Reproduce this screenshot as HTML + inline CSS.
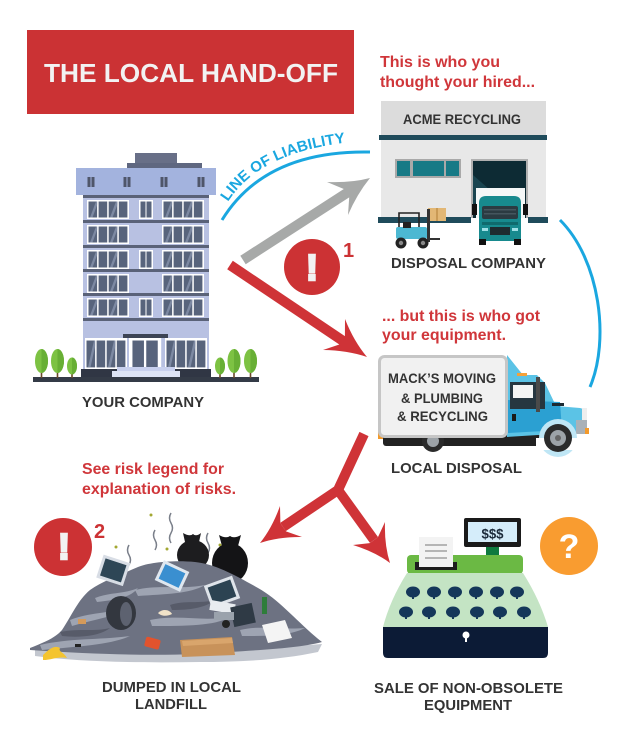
<!DOCTYPE html>
<html><head><meta charset="utf-8">
<style>html,body{margin:0;padding:0;background:#fff;}svg{display:block}</style>
</head>
<body>
<svg width="635" height="739" viewBox="0 0 635 739" xmlns="http://www.w3.org/2000/svg" xmlns:xlink="http://www.w3.org/1999/xlink" font-family="Liberation Sans, Arial, sans-serif" font-weight="bold">
<defs>
  <g id="w4">
    <rect width="42" height="19" fill="#ffffff"/>
    <rect x="1.5" y="1.5" width="8.6" height="16" fill="#58647c"/>
    <rect x="11.6" y="1.5" width="8.6" height="16" fill="#58647c"/>
    <rect x="21.7" y="1.5" width="8.6" height="16" fill="#58647c"/>
    <rect x="31.8" y="1.5" width="8.6" height="16" fill="#58647c"/>
    <path d="M3,17.5 L9,1.5 L10.1,1.5 L10.1,5 L5.5,17.5Z M23,17.5 L29,1.5 L30.3,1.5 L30.3,5 L25.5,17.5Z" fill="#7d89a2"/>
  </g>
  <g id="w2">
    <rect width="14" height="19" fill="#ffffff"/>
    <rect x="1.5" y="1.5" width="5" height="16" fill="#58647c"/>
    <rect x="7.5" y="1.5" width="5" height="16" fill="#58647c"/>
  </g>
  <g id="btn">
    <rect x="-1" y="2" width="2" height="5" fill="#15375a"/>
    <ellipse cx="0" cy="0" rx="7" ry="5.5" fill="#15375a"/>
  </g>
</defs>

<rect width="635" height="739" fill="#ffffff"/>

<!-- Title -->
<rect x="27" y="30" width="327" height="84" fill="#cb3234"/>
<text x="44" y="82" font-size="26" fill="#f2f2f2" textLength="294" lengthAdjust="spacingAndGlyphs">THE LOCAL HAND-OFF</text>

<!-- Red notes -->
<g fill="#d0363a" font-size="16">
  <text x="380" y="67" textLength="120" lengthAdjust="spacingAndGlyphs">This is who you</text>
  <text x="380" y="87" textLength="155" lengthAdjust="spacingAndGlyphs">thought your hired...</text>
  <text x="382" y="321" textLength="158" lengthAdjust="spacingAndGlyphs">... but this is who got</text>
  <text x="382" y="340" textLength="124" lengthAdjust="spacingAndGlyphs">your equipment.</text>
  <text x="82" y="474" textLength="142" lengthAdjust="spacingAndGlyphs">See risk legend for</text>
  <text x="82" y="494" textLength="154" lengthAdjust="spacingAndGlyphs">explanation of risks.</text>
</g>

<!-- Building -->
<rect x="135" y="153" width="42" height="11" fill="#686f87"/>
<rect x="127" y="163" width="75" height="6" fill="#5f6780"/>
<rect x="76" y="168" width="140" height="27" fill="#a3b3de"/>
<g fill="#4f566a">
  <rect x="87.5" y="177" width="3" height="10"/><rect x="91.5" y="177" width="3" height="10"/>
  <rect x="123.5" y="177" width="3" height="10"/><rect x="127.5" y="177" width="3" height="10"/>
  <rect x="160.5" y="177" width="3" height="10"/><rect x="164.5" y="177" width="3" height="10"/>
  <rect x="197.5" y="177" width="3" height="10"/><rect x="201.5" y="177" width="3" height="10"/>
</g>
<rect x="83" y="195" width="126" height="175" fill="#b8c1e2"/>
<g fill="#5a6278">
  <rect x="83" y="195" width="126" height="3"/>
  <rect x="83" y="220" width="126" height="3"/>
  <rect x="83" y="245" width="126" height="3"/>
  <rect x="83" y="269" width="126" height="3"/>
  <rect x="83" y="293" width="126" height="3"/>
  <rect x="83" y="318" width="126" height="3"/>
</g>
<use xlink:href="#w4" x="87" y="200"/><use xlink:href="#w4" x="162" y="200"/><use xlink:href="#w2" x="139" y="200"/>
<use xlink:href="#w4" x="87" y="225"/><use xlink:href="#w4" x="162" y="225"/>
<use xlink:href="#w4" x="87" y="250"/><use xlink:href="#w4" x="162" y="250"/><use xlink:href="#w2" x="139" y="250"/>
<use xlink:href="#w4" x="87" y="274"/><use xlink:href="#w4" x="162" y="274"/>
<use xlink:href="#w4" x="87" y="298"/><use xlink:href="#w4" x="162" y="298"/><use xlink:href="#w2" x="139" y="298"/>
<!-- ground floor -->
<rect x="123" y="334" width="45" height="4" fill="#3d4455"/>
<use xlink:href="#w4" transform="translate(85,338) scale(1,1.68)"/>
<use xlink:href="#w4" transform="translate(165,338) scale(1,1.68)"/>
<g transform="translate(129,338) scale(2.3,1.68)"><use xlink:href="#w2"/></g>
<rect x="81" y="369" width="130" height="8" fill="#303644"/>
<rect x="117" y="367" width="58" height="4" fill="#c8d0ee"/>
<rect x="112" y="371" width="68" height="6" fill="#dde3f5"/>
<rect x="33" y="377" width="226" height="5" fill="#343b47"/>
<!-- trees -->
<g fill="#6b4a2a">
  <rect x="40.7" y="370" width="1.6" height="8"/><rect x="56.7" y="370" width="1.6" height="8"/><rect x="71.2" y="372" width="1.6" height="6"/>
  <rect x="219.2" y="372" width="1.6" height="6"/><rect x="233.2" y="370" width="1.6" height="8"/><rect x="249.7" y="370" width="1.6" height="8"/>
</g>
<g fill="#7dc243">
  <ellipse cx="41.5" cy="361" rx="6.5" ry="12"/><ellipse cx="57.5" cy="361" rx="6.5" ry="12"/><ellipse cx="72" cy="366" rx="5" ry="8.5"/>
  <ellipse cx="220" cy="366" rx="5" ry="8.5"/><ellipse cx="234" cy="361" rx="6.5" ry="12"/><ellipse cx="250.5" cy="361" rx="6.5" ry="12"/>
</g>
<g fill="#68af35">
  <path d="M41.5,349 A6.5,12 0 0 1 41.5,373Z"/><path d="M57.5,349 A6.5,12 0 0 1 57.5,373Z"/><path d="M72,357.5 A5,8.5 0 0 1 72,374.5Z"/>
  <path d="M220,357.5 A5,8.5 0 0 1 220,374.5Z"/><path d="M234,349 A6.5,12 0 0 1 234,373Z"/><path d="M250.5,349 A6.5,12 0 0 1 250.5,373Z"/>
</g>

<g fill="#333333" font-size="15">
  <text x="82" y="407" textLength="122" lengthAdjust="spacingAndGlyphs">YOUR COMPANY</text>
  <text x="391" y="268" textLength="155" lengthAdjust="spacingAndGlyphs">DISPOSAL COMPANY</text>
  <text x="391" y="473" textLength="131" lengthAdjust="spacingAndGlyphs">LOCAL DISPOSAL</text>
  <text x="102" y="692" textLength="139" lengthAdjust="spacingAndGlyphs">DUMPED IN LOCAL</text>
  <text x="135" y="709" textLength="72" lengthAdjust="spacingAndGlyphs">LANDFILL</text>
  <text x="374" y="693" textLength="189" lengthAdjust="spacingAndGlyphs">SALE OF NON-OBSOLETE</text>
  <text x="424" y="710" textLength="88" lengthAdjust="spacingAndGlyphs">EQUIPMENT</text>
</g>

<!-- Warehouse -->
<rect x="381" y="101" width="165" height="34" fill="#dcdcdc"/>
<text x="403" y="124" font-size="14" fill="#333333" textLength="118" lengthAdjust="spacingAndGlyphs">ACME RECYCLING</text>
<rect x="379" y="135" width="168" height="5" fill="#1f4b5b"/>
<rect x="381" y="140" width="165" height="78" fill="#e8e8e8"/>
<rect x="395" y="159" width="66" height="19" fill="#a9a9a9"/>
<rect x="397" y="161" width="13" height="15" fill="#177a86"/>
<rect x="413" y="161" width="31" height="15" fill="#177a86"/>
<rect x="446" y="161" width="13" height="15" fill="#177a86"/>
<rect x="471" y="159" width="57" height="59" fill="#b0b0b0"/>
<rect x="473" y="161" width="53" height="57" fill="#0d2b34"/>
<path d="M473,175 L490,190 L473,205Z" fill="#1a4550"/>
<rect x="476" y="188" width="49" height="30" fill="#f4f7f7"/>
<rect x="378" y="217" width="93" height="6" fill="#1f4b5b"/>
<rect x="528" y="217" width="20" height="6" fill="#1f4b5b"/>
<!-- teal truck -->
<rect x="472" y="204" width="5" height="11" fill="#111"/>
<rect x="523" y="204" width="5" height="11" fill="#111"/>
<path d="M479,241 L479,203 Q479,196 486,196 L514,196 Q521,196 521,203 L521,241 Z" fill="#178a8e"/>
<rect x="482" y="206" width="36" height="13" rx="2" fill="#2b3b42"/>
<rect x="484" y="209" width="32" height="1.5" fill="#44565e"/><rect x="484" y="213" width="32" height="1.5" fill="#44565e"/>
<rect x="482" y="222" width="36" height="3" fill="#0f6a6d"/>
<rect x="482" y="228" width="6" height="3" fill="#9ee0e6"/><rect x="512" y="228" width="6" height="3" fill="#9ee0e6"/>
<rect x="490" y="227" width="20" height="8" fill="#1e2b30"/>
<rect x="479" y="239" width="7" height="6" fill="#111"/><rect x="514" y="239" width="7" height="6" fill="#111"/>
<!-- forklift -->
<rect x="428" y="208" width="18" height="13" fill="#e2b775"/>
<rect x="436" y="208" width="2" height="13" fill="#c99a55"/>
<rect x="427" y="209" width="3" height="33" fill="#333"/>
<rect x="430" y="238" width="10" height="2" fill="#333"/>
<path d="M399,228 L399,213 L419,213 L419,228" fill="none" stroke="#222" stroke-width="1.6"/>
<rect x="396" y="227" width="31" height="12" rx="2" fill="#4cb8d2"/>
<rect x="403" y="222" width="8" height="6" fill="#222"/>
<circle cx="401" cy="243" r="5.5" fill="#222"/><circle cx="401" cy="243" r="2.2" fill="#888"/>
<circle cx="423" cy="243" r="5.5" fill="#222"/><circle cx="423" cy="243" r="2.2" fill="#888"/>

<!-- Line of liability -->
<path d="M222,220 Q265,150 370,152" fill="none" stroke="#1aa7e0" stroke-width="3"/>
<path id="lp" d="M228,202 Q262,148 364,141" fill="none"/>
<text font-size="15" fill="#1aa7e0"><textPath xlink:href="#lp" textLength="136" lengthAdjust="spacingAndGlyphs">LINE OF LIABILITY</textPath></text>
<path d="M560,220 C600,260 610,340 590,387" fill="none" stroke="#1aa7e0" stroke-width="3"/>

<!-- arrows -->
<path d="M245.7,264.2 L349.2,197.4 L348,215 Q357,194 370,178 Q351,183 327,182 L343.8,189 L240.3,255.8 Z" fill="#a7a9a8"/>
<path d="M232.8,260.8 L344.9,336.1 L345,319 Q353.8,341.3 367,357 Q347.2,350.2 323,350 L339.3,344.5 L227.2,269.2 Z" fill="#cf3337"/>
<path d="M364,434 L338,490 L283,527" stroke="#cf3337" stroke-width="10" fill="none" stroke-linejoin="round"/>
<path d="M338,490 L374,540" stroke="#cf3337" stroke-width="10" fill="none"/>
<path d="M280.4,523.2 L280,506 Q272.2,527.8 260,543 Q278.8,536.7 302,537 L286,531.4 Z" fill="#cf3337"/>
<path d="M377.9,537.3 L385,522 Q384.2,544.8 390,563 Q374.8,551.7 353,545 L369.7,543.1 Z" fill="#cf3337"/>

<!-- risk 1 -->
<circle cx="312" cy="267" r="28" fill="#cc3234"/>
<text x="312" y="280" font-size="36" fill="#f2f2f2" stroke="#f2f2f2" stroke-width="2.5" text-anchor="middle">!</text>
<text x="343" y="257" font-size="20" fill="#cc3234">1</text>

<!-- Local truck -->
<rect x="383" y="430" width="180" height="16" rx="3" fill="#222"/>
<rect x="378" y="430" width="5" height="9" fill="#f39a2b"/>
<circle cx="433" cy="441" r="11" fill="#2b2b2b"/><circle cx="433" cy="441" r="6" fill="#9da3a8"/>
<path d="M507,355 L523,375 L537,375 L545,383 L556,406 L580,408 Q586,409 586,414 L586,432 L507,437 Z" fill="#5bc3e6"/>
<path d="M508,400 L560,402 L562,430 L508,433 Z" fill="#2ba0d2"/>
<rect x="510" y="382" width="35" height="27" fill="#263640"/>
<rect x="513" y="385" width="20" height="13" fill="#f4f4f4"/>
<rect x="536" y="377" width="4" height="35" fill="#4a4a4a"/>
<rect x="512" y="414" width="4" height="7" fill="#1a1a1a"/>
<rect x="552" y="403" width="12" height="3" fill="#1d2a33"/>
<rect x="582" y="408" width="5" height="12" fill="#eeeeee"/>
<rect x="576" y="420" width="11" height="14" fill="#a9b1b8"/>
<rect x="585" y="428" width="4" height="6" fill="#f39a2b"/>
<rect x="517" y="373" width="10" height="3" fill="#f4a13a"/>
<circle cx="558" cy="438" r="19" fill="#bfe6f5"/>
<rect x="536" y="438" width="44" height="12" fill="#ffffff"/>
<circle cx="558" cy="438" r="14" fill="#2b2b2b"/><circle cx="558" cy="438" r="8" fill="#9da3a8"/><circle cx="558" cy="438" r="3" fill="#666"/>
<rect x="379.5" y="356.5" width="127" height="80" rx="5" fill="#f1f1f1" stroke="#c6c6c6" stroke-width="3"/>
<g fill="#333333" font-size="14">
  <text x="388" y="383" textLength="108" lengthAdjust="spacingAndGlyphs">MACK’S MOVING</text>
  <text x="401" y="403" textLength="82" lengthAdjust="spacingAndGlyphs">&amp; PLUMBING</text>
  <text x="397" y="421" textLength="91" lengthAdjust="spacingAndGlyphs">&amp; RECYCLING</text>
</g>

<!-- Risk 2 -->
<circle cx="63" cy="547" r="29" fill="#cc3234"/>
<text x="64" y="559" font-size="36" fill="#f2f2f2" stroke="#f2f2f2" stroke-width="2.5" text-anchor="middle">!</text>
<text x="94" y="538" font-size="20" fill="#cc3234">2</text>

<!-- Landfill -->
<path d="M35,650 C80,646 150,644 220,645 C270,646 300,646 322,644 L318,652 C280,660 240,662 200,662 C140,663 80,662 35,656 Z" fill="#c3c7cf"/>
<!-- stink lines -->
<g fill="none" stroke="#7a7f8a" stroke-width="1.5">
  <path d="M171,513 q-3,5 0,10 q3,5 0,10 q-3,5 0,10"/>
  <path d="M155,530 q-3,5 0,10 q3,5 0,10"/>
  <path d="M208,533 q-3,5 0,10 q3,5 0,10"/>
  <path d="M129,545 q-3,5 0,10 q3,5 0,10"/>
</g>
<g fill="#a3a832">
  <circle cx="151" cy="515" r="1.5"/><circle cx="116" cy="547" r="1.5"/><circle cx="167" cy="549" r="1.5"/><circle cx="220" cy="545" r="1.5"/>
</g>
<!-- bags -->
<ellipse cx="193" cy="555" rx="16" ry="15" fill="#1d1d1f"/>
<path d="M185,542 L183,533 Q190,537 193,534 Q196,537 201,533 L199,542Z" fill="#1d1d1f"/>
<ellipse cx="230" cy="563" rx="18" ry="20" fill="#141416"/>
<path d="M222,546 L219,535 Q226,539 230,536 Q234,539 241,535 L238,546Z" fill="#141416"/>
<path d="M30,648 C45,642 55,638 62,630 C72,615 78,600 90,590 C105,580 120,575 138,567 C150,562 175,560 195,562 C215,564 235,575 258,588 C280,600 300,625 322,642 C300,648 260,650 230,652 C180,656 120,656 30,650 Z" fill="#6d7282"/>
<g fill="#9ea4b2">
  <path d="M70,620 C90,612 110,614 130,606 C120,616 100,618 72,626Z"/>
  <path d="M135,590 C160,584 180,590 205,585 C190,594 165,594 138,596Z"/>
  <path d="M40,645 C70,638 100,640 130,636 C110,645 80,646 42,650Z"/>
  <path d="M150,620 C180,614 200,622 230,617 C215,626 185,626 152,626Z"/>
  <path d="M240,630 C260,625 280,630 305,628 C290,636 265,636 242,636Z"/>
  <path d="M95,598 C110,592 125,594 138,588 C130,598 115,600 97,602Z"/>
</g>
<g fill="#575b69">
  <path d="M60,632 C80,628 95,632 110,628 C100,636 80,638 62,636Z"/>
  <path d="M170,605 C185,600 200,604 215,600 C205,608 190,610 172,610Z"/>
</g>
<!-- tire -->
<ellipse cx="121" cy="613" rx="15" ry="17" fill="#33373f"/>
<ellipse cx="126" cy="614" rx="6" ry="12" fill="#5d6270"/>
<!-- monitors -->
<g transform="rotate(18 112 571)"><rect x="99" y="558" width="28" height="24" fill="#d8dde5"/><rect x="102" y="561" width="22" height="18" fill="#2e4656"/></g>
<g transform="rotate(25 172 576)"><rect x="158" y="565" width="28" height="22" fill="#dfe7ef"/><rect x="161" y="568" width="22" height="16" fill="#3a8fd0"/></g>
<g transform="rotate(-20 222 592)"><rect x="207" y="580" width="30" height="24" fill="#dfe4ea"/><rect x="210" y="583" width="24" height="18" fill="#2c4352"/></g>
<rect x="210" y="602" width="25" height="10" fill="#e8ecf0" transform="rotate(10 222 607)"/>
<rect x="232" y="605" width="22" height="20" fill="#2f3a45" transform="rotate(-12 243 615)"/>
<rect x="214" y="612" width="20" height="8" fill="#9aa2ac"/>
<circle cx="226" cy="624" r="4" fill="#222"/>
<rect x="262" y="597" width="5" height="17" fill="#2e7d3a"/>
<!-- debris -->
<path d="M180,640 L232,637 L235,655 L182,657 Z" fill="#c8925a"/>
<path d="M182,641 L232,638 L233,643 L183,646Z" fill="#d9a56c"/>
<rect x="145" y="638" width="15" height="10" rx="2" fill="#e2532d" transform="rotate(15 152 643)"/>
<path d="M43,655 C50,648 55,645 60,648 C58,652 64,652 67,658 C58,656 52,660 43,660Z" fill="#f4c430"/>
<path d="M262,625 L285,620 L292,638 L268,643 Z" fill="#f4f4f4"/>
<rect x="78" y="619" width="8" height="5" fill="#d49a5a"/>
<path d="M158,613 C163,608 170,610 172,614 C168,616 162,617 158,613Z" fill="#f0e2c8"/>
<rect x="75" y="644" width="6" height="3" fill="#222"/>

<!-- Cash register -->
<rect x="464" y="518" width="57" height="29" rx="2" fill="#1a1a1a"/>
<rect x="468" y="522" width="49" height="20" fill="#d5edfa"/>
<text x="492.5" y="538.5" font-size="14" fill="#1b2a3a" text-anchor="middle" textLength="22" lengthAdjust="spacingAndGlyphs">$$$</text>
<rect x="486" y="547" width="13" height="9" fill="#0f7a3f"/>
<rect x="407" y="555" width="116" height="19" rx="4" fill="#6bb944"/>
<rect x="415" y="562" width="42" height="8" fill="#1d1d1d"/>
<rect x="419" y="537" width="34" height="30" fill="#f3f3f3"/>
<rect x="425" y="544" width="22" height="2" fill="#b5b5b5"/>
<rect x="425" y="550" width="22" height="2" fill="#b5b5b5"/>
<rect x="425" y="557" width="22" height="2" fill="#b5b5b5"/>
<path d="M407,573 L523,573 Q540,600 548,627 L383,627 Q390,600 407,573 Z" fill="#c4e4c4"/>
<use xlink:href="#btn" x="413" y="592"/><use xlink:href="#btn" x="434" y="592"/><use xlink:href="#btn" x="455" y="592"/>
<use xlink:href="#btn" x="476" y="592"/><use xlink:href="#btn" x="497" y="592"/><use xlink:href="#btn" x="517" y="592"/>
<use xlink:href="#btn" x="406" y="612"/><use xlink:href="#btn" x="429" y="612"/><use xlink:href="#btn" x="453" y="612"/>
<use xlink:href="#btn" x="477" y="612"/><use xlink:href="#btn" x="500" y="612"/><use xlink:href="#btn" x="524" y="612"/>
<path d="M383,627 L548,627 L548,653 Q548,658 543,658 L388,658 Q383,658 383,653 Z" fill="#0c1b36"/>
<circle cx="466" cy="635" r="3.5" fill="#ffffff"/>
<rect x="465" y="636" width="2" height="6" fill="#ffffff"/>

<!-- ? circle -->
<circle cx="569" cy="546" r="29" fill="#f99c30"/>
<text x="569" y="558" font-size="34" fill="#ffffff" text-anchor="middle">?</text>
</svg>
</body></html>
